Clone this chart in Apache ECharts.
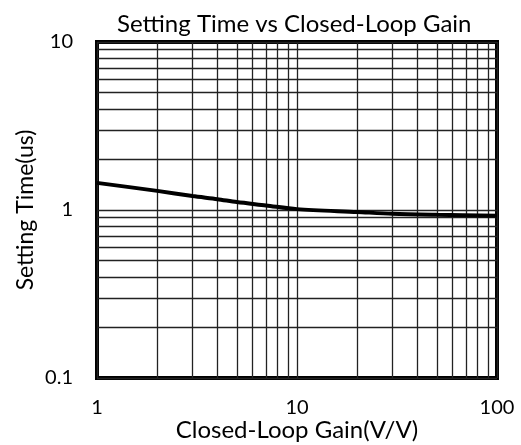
<!DOCTYPE html>
<html><head><meta charset="utf-8">
<script src="https://cdn.jsdelivr.net/npm/echarts@6/dist/echarts.min.js"></script>
<style>html,body{margin:0;padding:0;background:#fff}#c{width:521px;height:445px}</style>
</head><body><div id="c"></div>
<script>
var gain = [1, 2, 3, 4, 5, 7, 10, 20, 30, 50, 100];
var settlingTime = [1.45, 1.30, 1.21, 1.16, 1.115, 1.065, 1.012, 0.973, 0.950, 0.937, 0.925];
var xMinorGrid = [2,3,4,5,6,7,8,9,20,30,40,50,60,70,80,90];
var yMinorGrid = [0.2,0.3,0.4,0.5,0.6,0.7,0.8,0.9,2,3,4,5,6,7,8,9];

var font = 'Lato';
var chart = echarts.init(document.getElementById('c'));
var gridLine = {color:'#222', width:1.3, type:'solid'};
chart.setOption({
  animation:false,
  title:{text:'Setting Time vs Closed-Loop Gain', left:112, top:7,
    textStyle:{fontFamily:font, fontSize:24, fontWeight:'normal', color:'#000'}},
  grid:{left:97, right:24, top:42, bottom:67, outerBoundsMode:'none', containLabel:false,
    show:true, borderColor:'#000', borderWidth:4, backgroundColor:'transparent'},
  xAxis:{type:'log', logBase:10, min:1, max:100,
    name:'Closed-Loop Gain(V/V)', nameLocation:'middle', nameGap:40, nameMoveOverlap:false,
    nameTextStyle:{fontFamily:font, fontSize:24, color:'#000'},
    axisLine:{show:false}, axisTick:{show:false},
    axisLabel:{fontFamily:font, fontSize:20, color:'#000', margin:20},
    splitLine:{show:true, lineStyle:gridLine}},
  yAxis:{type:'log', logBase:10, min:0.1, max:10,
    name:'Setting Time(us)', nameLocation:'middle', nameGap:60, nameMoveOverlap:false,
    nameTextStyle:{fontFamily:font, fontSize:23, color:'#000'},
    axisLine:{show:false}, axisTick:{show:false},
    axisLabel:{fontFamily:font, fontSize:20, color:'#000', margin:24},
    splitLine:{show:true, lineStyle:gridLine}},
  series:[{
    type:'line', data: gain.map(function(g,i){return [g, settlingTime[i]];}),
    smooth:0.3, showSymbol:false, lineStyle:{color:'#000', width:4}, z:5,
    markLine:{silent:true, symbol:'none', label:{show:false}, lineStyle:gridLine, animation:false,
      data: xMinorGrid.map(function(v){return {xAxis:v};}).concat(yMinorGrid.map(function(v){return {yAxis:v};}))}
  }]
});
</script></body></html>
